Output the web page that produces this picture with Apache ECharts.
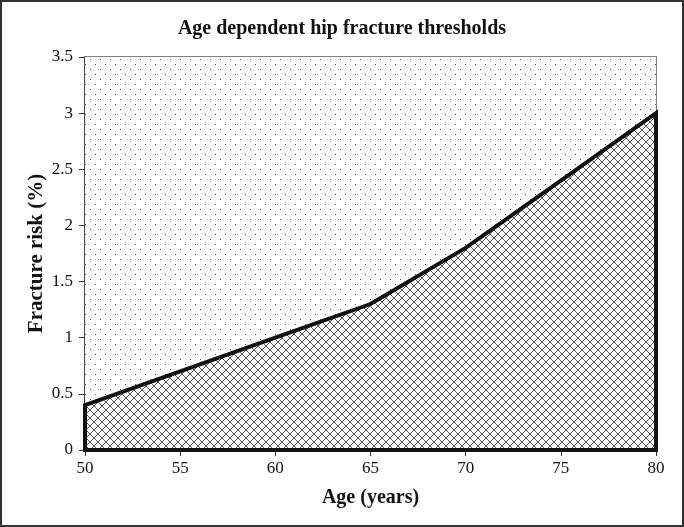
<!DOCTYPE html>
<html><head><meta charset="utf-8">
<script src="https://cdn.jsdelivr.net/npm/echarts@6/dist/echarts.min.js"></script>
<style>html,body{margin:0;padding:0;background:#fff}#c{width:684px;height:527px;box-sizing:border-box;border:2px solid #333}</style>
</head><body><div id="c"></div>
<script>
const ages = [50, 55, 60, 65, 70, 75, 80];
const risk = [0.4, 0.7, 1.0, 1.3, 1.8, 2.4, 3.0];
const yMax = 3.5;

function makeTile(w, h, draw) {
  const c = document.createElement('canvas'); c.width = w; c.height = h;
  const g = c.getContext('2d'); g.fillStyle = '#fff'; g.fillRect(0, 0, w, h); draw(g); return c;
}
const dots = makeTile(10, 10, g => { g.fillStyle = '#555'; g.fillRect(3, 2, 1, 1); g.fillRect(8, 7, 1, 1); });
const hatch = makeTile(8, 8, g => {
  g.strokeStyle = '#555'; g.lineWidth = 1;
  g.beginPath(); g.moveTo(0, 0); g.lineTo(8, 8); g.moveTo(8, 0); g.lineTo(0, 8);
  g.moveTo(-4, 4); g.lineTo(4, 12); g.moveTo(4, -4); g.lineTo(12, 4);
  g.stroke();
});

const pts = ages.map((a, i) => [a, risk[i]]);
function polyRender(top) {
  return function (params, api) {
    if (params.dataIndex !== 0) return;
    const line = pts.map(p => api.coord(p));
    const x0 = ages[0], x1 = ages[ages.length - 1];
    const yb = top ? yMax : 0;
    const poly = line.concat([api.coord([x1, yb]), api.coord([x0, yb])]);
    return {
      type: 'polygon', shape: { points: poly },
      style: top ? { fill: { image: dots, repeat: 'repeat' }, stroke: null }
                 : { fill: { image: hatch, repeat: 'repeat' }, stroke: '#111', lineWidth: 4, lineJoin: 'miter' }
    };
  };
}

const chart = echarts.init(document.getElementById('c'));
const serif = 'Liberation Serif';
chart.setOption({
  animation: false,
  title: { text: 'Age dependent hip fracture thresholds', left: 'center', top: 12,
    textStyle: { fontFamily: serif, fontSize: 20, fontWeight: 'bold', color: '#111' } },
  grid: { left: 83, right: 26, top: 55, bottom: 75, show: true, borderColor: '#555', borderWidth: 1.5 },
  xAxis: { type: 'value', min: 50, max: 80, interval: 5,
    name: 'Age (years)', nameLocation: 'middle', nameGap: 38,
    nameTextStyle: { fontFamily: serif, fontSize: 20, fontWeight: 'bold', color: '#111' },
    axisLine: { show: true, lineStyle: { color: '#333', width: 1.5 } },
    axisTick: { show: true, length: 6, lineStyle: { color: '#333' } },
    axisLabel: { fontFamily: serif, fontSize: 17, color: '#111', margin: 10 },
    splitLine: { show: false } },
  yAxis: { type: 'value', min: 0, max: yMax, interval: 0.5,
    name: 'Fracture risk (%)', nameLocation: 'middle', nameGap: 38, nameMoveOverlap: false,
    nameTextStyle: { fontFamily: serif, fontSize: 21, fontWeight: 'bold', color: '#111' },
    axisLine: { show: true, lineStyle: { color: '#333', width: 1.5 } },
    axisTick: { show: true, length: 6, lineStyle: { color: '#333' } },
    axisLabel: { fontFamily: serif, fontSize: 17, color: '#111', margin: 12 },
    splitLine: { show: false } },
  series: [
    { type: 'custom', renderItem: polyRender(true), data: pts, z: 1, silent: true },
    { type: 'custom', renderItem: polyRender(false), data: pts, z: 2, silent: true }
  ]
});
</script></body></html>
